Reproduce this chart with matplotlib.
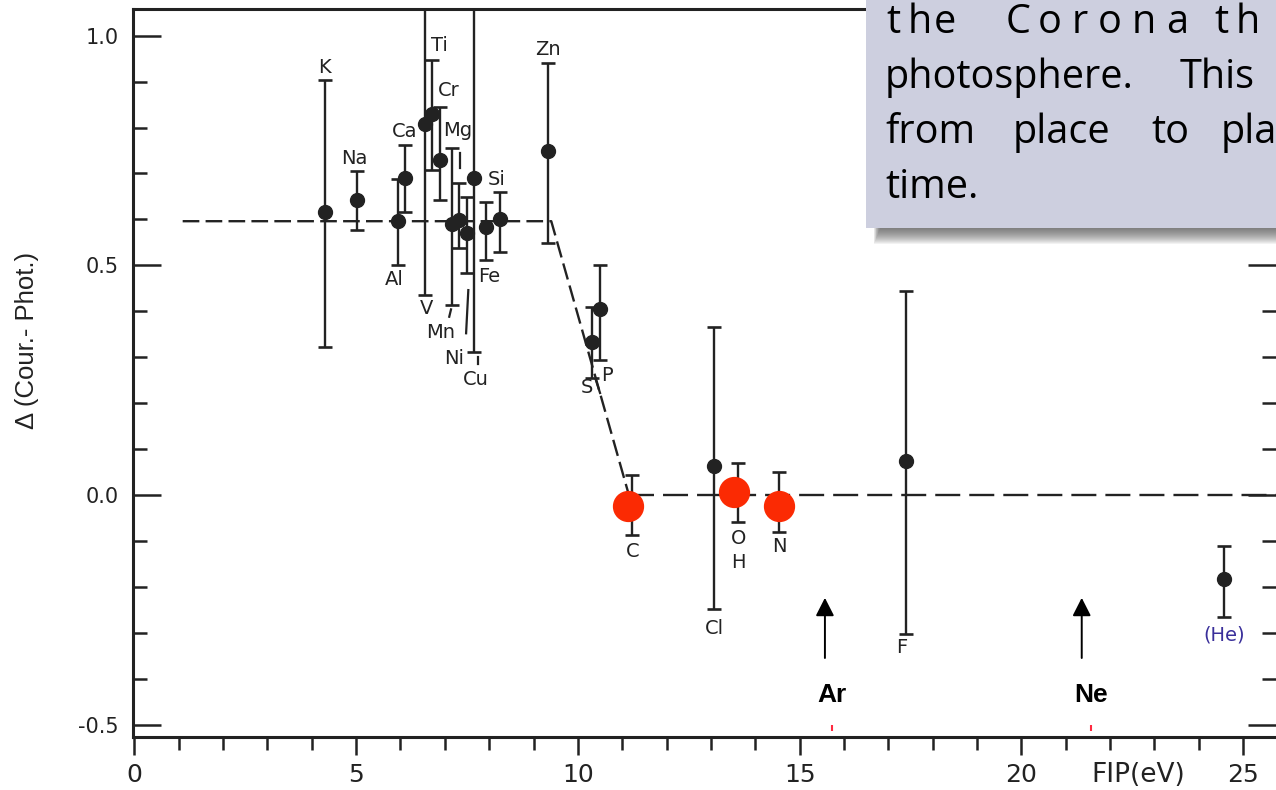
import matplotlib.pyplot as plt
from matplotlib.patches import Rectangle
from matplotlib.ticker import MultipleLocator

plt.rcParams["axes.unicode_minus"] = False
plt.rcParams["lines.scale_dashes"] = False

# black points: FIP (eV), Delta, and the ends of each bar
fip   = [4.29, 5.01, 5.95, 6.11, 6.56, 6.71, 6.90, 7.16, 7.33, 7.50, 7.66, 7.93, 8.24, 9.33, 10.32, 10.49, 13.08, 17.40, 24.57]
delta = [0.615, 0.642, 0.597, 0.691, 0.807, 0.830, 0.729, 0.590, 0.598, 0.570, 0.689, 0.583, 0.600, 0.749, 0.334, 0.404, 0.063, 0.074, -0.184]
lower = [0.323, 0.577, 0.500, 0.617, 0.435, 0.707, 0.642, 0.413, 0.537, 0.483, 0.312, 0.511, 0.530, 0.549, 0.255, 0.294, -0.249, -0.303, -0.266]
upper = [0.903, 0.706, 0.688, 0.762, 1.100, 0.947, 0.845, 0.755, 0.680, 0.649, 1.100, 0.638, 0.660, 0.940, 0.410, 0.500, 0.366, 0.444, -0.112]

# C, O, N bars (under the red dots) and the red dots themselves
con_fip   = [11.23, 13.62, 14.54]
con_lower = [-0.087, -0.058, -0.080]
con_upper = [0.044, 0.070, 0.049]
red_fip   = [11.13, 13.51, 14.54]
red_delta = [-0.025, 0.007, -0.025]

# dashed trend lines
trend_fip   = [1.09, 9.40, 11.15]
trend_delta = [0.596, 0.596, 0.0]
flat_fip    = [11.15, 25.9]
flat_delta  = [0.0, 0.0]

# element labels
names   = ["K", "Na", "Ca", "Al", "Ti", "Cr", "Mg", "V", "Mn", "Ni", "Cu", "Fe", "Si", "Zn",
           "S", "P", "C", "O", "H", "N", "Cl", "F"]
name_x  = [4.29, 4.96, 6.09, 5.86, 6.88, 7.10, 7.28, 6.58, 6.90, 7.20, 7.69, 8.00, 8.17, 9.33,
           10.20, 10.66, 11.23, 13.62, 13.62, 14.54, 13.07, 17.31]
name_y  = [0.931, 0.733, 0.791, 0.468, 0.979, 0.881, 0.794, 0.406, 0.353, 0.298, 0.252, 0.475, 0.687, 0.970,
           0.233, 0.261, -0.123, -0.094, -0.147, -0.113, -0.290, -0.333]

# small leader strokes next to some labels
leaders = [((7.35, 7.35), (0.744, 0.712)),
           ((7.53, 7.48), (0.446, 0.352)),
           ((7.75, 7.75), (0.300, 0.286)),
           ((7.10, 7.14), (0.388, 0.404)),
           ((10.40, 10.50), (0.252, 0.222))]

# noble gases marked with arrows
gas_names = ["Ar", "Ne"]
gas_fip   = [15.57, 21.36]
gas_text  = [15.72, 21.57]

ytick_vals   = [-0.5, 0.0, 0.5, 1.0]
ytick_labels = ["-0.5", "0.0", "0.5", "1.0"]
xtick_vals   = [0, 5, 10, 15, 20, 25]

ink = "#222222"

fig = plt.figure(figsize=(12.76, 7.9), dpi=100)
ax = fig.add_axes([133 / 1276, 53 / 790, 1 - 133 / 1276, 728 / 790])
ax.set_xlim(-0.03, 25.74)
ax.set_ylim(-0.527, 1.058)

for side in ("left", "bottom", "top"):
    ax.spines[side].set_linewidth(2.2)
    ax.spines[side].set_color(ink)
ax.spines["right"].set_visible(False)

ax.set_yticks(ytick_vals)
ax.set_yticklabels(ytick_labels)
ax.yaxis.set_minor_locator(MultipleLocator(0.1))
ax.tick_params(axis="y", which="major", direction="in", length=20, width=1.8,
               labelsize=15, pad=10, right=True, colors=ink)
ax.tick_params(axis="y", which="minor", direction="in", length=10, width=1.8, right=True, colors=ink)

ax.set_xticks(xtick_vals)
ax.xaxis.set_minor_locator(MultipleLocator(1))
ax.tick_params(axis="x", which="major", direction="out", length=13, width=1.8,
               labelsize=18, pad=6, colors=ink)
ax.tick_params(axis="x", which="minor", direction="out", length=9, width=1.8, colors=ink)

# dashed lines
ax.plot(trend_fip, trend_delta, color=ink, lw=1.7, dashes=(12, 4.5), zorder=2)
ax.plot(flat_fip, flat_delta, color=ink, lw=1.7, dashes=(18, 6.5), zorder=2)

# error bars
top = ax.get_ylim()[1]
ax.vlines(fip, lower, upper, color=ink, lw=1.7, zorder=3)
ax.plot(fip, lower, "_", color=ink, ms=10, mew=1.9, zorder=3)
caps_x = [x for x, u in zip(fip, upper) if u < top]
caps_y = [u for u in upper if u < top]
ax.plot(caps_x, caps_y, "_", color=ink, ms=10, mew=1.9, zorder=3)
ax.plot(fip, delta, "o", color=ink, ms=10, zorder=4)

ax.vlines(con_fip, con_lower, con_upper, color=ink, lw=1.7, zorder=3)
ax.plot(con_fip + con_fip, con_lower + con_upper, "_", color=ink, ms=10, mew=1.9, zorder=3)
ax.plot(red_fip, red_delta, "o", color="#fb2a03", ms=21.5, zorder=5)

for xs, ys in leaders:
    ax.plot(xs, ys, color=ink, lw=1.6, zorder=3)

for name, x, y in zip(names, name_x, name_y):
    ax.text(x, y, name, ha="center", va="center", fontsize=14, color=ink, zorder=6)
ax.text(24.57, -0.305, "(He)", ha="center", va="center", fontsize=14, color="#3a2f9a", zorder=6)

for name, x, tx in zip(gas_names, gas_fip, gas_text):
    ax.annotate("", xy=(x, -0.224), xytext=(x, -0.355),
                arrowprops=dict(arrowstyle="-|>,head_length=0.55,head_width=0.28",
                                color="black", lw=1.4, mutation_scale=20,
                                shrinkA=0, shrinkB=0))
    ax.text(tx, -0.435, name, ha="center", va="center", fontsize=19,
            fontweight="bold", family="Liberation Sans", color="black")
    ax.plot(tx, -0.507, "|", color="#ff2a40", ms=4, mew=1.5, clip_on=False)

ax.text(22.63, -0.609, "FIP(eV)", ha="center", va="center", fontsize=19, color=ink, clip_on=False)

fig.text(27 / 1276, 1 - 340 / 790, "\u0394 (Cour.- Phot.)", rotation=90, ha="center", va="center",
         fontsize=18.5, family="Liberation Sans", color=ink)

# text box overlay, in pixel coordinates
over = fig.add_axes([0, 0, 1, 1])
over.set_xlim(0, 1276)
over.set_ylim(790, 0)
over.axis("off")
over.patch.set_visible(False)

for i in range(16):
    over.add_patch(Rectangle((874 + i * 0.4, 220), 420, 8 + (16 - i), color="#505050",
                             alpha=0.07, lw=0, zorder=1))
over.add_patch(Rectangle((866, -5), 420, 233, facecolor="#cdcfdf", edgecolor="none", zorder=2))

box_font = dict(family="Open Sans", fontsize=28.5, color="black", va="baseline", ha="left", zorder=3)
line1_chars = ["t", "h", "e", "C", "o", "r", "o", "n", "a", "t", "h"]
line1_x     = [886, 908, 934, 1006, 1038, 1072, 1098, 1132, 1166, 1214, 1236]
for ch, x in zip(line1_chars, line1_x):
    over.text(x, 33, ch, **box_font)
over.text(885, 88, "photosphere.", **box_font)
over.text(1180, 88, "This", **box_font)
over.text(885, 143, "from", **box_font)
over.text(1013, 143, "place", **box_font)
over.text(1151, 143, "to", **box_font)
over.text(1221, 143, "pla", **box_font)
over.text(885, 198, "time.", **box_font)

fig.savefig("out.png", dpi=100)
